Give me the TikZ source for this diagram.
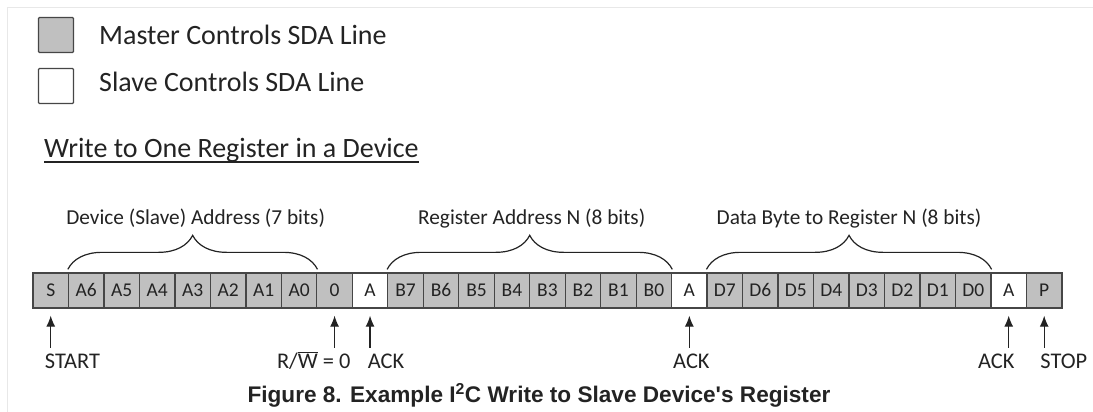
\documentclass[tikz,border=0pt]{standalone}
\usepackage{fontspec}
\setmainfont{Carlito}
\newfontfamily\capfont{Liberation Sans}
\usepackage{tikz}
\usetikzlibrary{calc,arrows.meta,decorations.pathreplacing,positioning}
\definecolor{mygray}{RGB}{192,192,192}
\definecolor{mywhite}{RGB}{255,255,255}
\definecolor{myedge}{RGB}{70,70,70}
\definecolor{myink}{RGB}{35,35,35}
\definecolor{myframe}{RGB}{232,232,232}

\begin{document}
\begin{tikzpicture}[
  x=1pt, y=-1pt,
  text=myink,
  bitbox/.style={
    draw=myedge,
    line width=1.3pt,
    minimum width=35.48pt,
    minimum height=35pt,
    inner sep=0pt,
    font=\fontsize{19.5}{19.5}\selectfont,
    text height=12.5pt,
    text depth=0pt
    },
  legbox/.style={
    draw=myedge,
    line width=1.3pt,
    rounded corners=1pt,
    minimum size=35pt,
    inner sep=0pt
    },
  bigtxt/.style={
    anchor=base west,
    inner sep=0pt,
    font=\fontsize{28}{28}\selectfont
    },
  bracelbl/.style={
    anchor=base,
    inner sep=0pt,
    font=\fontsize{21.3}{21.3}\selectfont
    },
  siglbl/.style={
    inner sep=0pt,
    text height=14.2pt,
    text depth=0pt,
    font=\fontsize{22.4}{22.4}\selectfont
    },
  sigarrow/.style={
    draw=myink,
    line width=1.2pt,
    -{Latex[length=11pt,width=9pt]}
    },
  mybrace/.style={
    draw=myink,
    line width=1.2pt,
    decorate,
    decoration={brace,amplitude=34pt}
  }
]
\useasboundingbox (0,0) rectangle (1093,412);
\draw[myframe, line width=1pt] (7,412) -- (7,8) -- (1093,8);

% legend
\node[legbox, fill=mygray]  (masterkey) at (56,35) {};
\node[legbox, fill=mywhite] (slavekey)  at (56,86) {};
\node[bigtxt] (mastertxt) at (99,45) {Master Controls SDA Line};
\node[bigtxt] (slavetxt) at (99,92) {Slave Controls SDA Line};

% heading
\node[bigtxt] (heading) at (44,157) {Write to One Register in a Device};
\draw[myink, line width=1.3pt] ($(heading.base west)+(0,5)$) -- ($(heading.base east)+(0,5)$);

% the bits on the line
\foreach \Bit/\Col [count=\Biti from 1] in {S/mygray, A6/mygray, A5/mygray, A4/mygray, A3/mygray, A2/mygray, A1/mygray, A0/mygray, 0/mygray, A/mywhite, B7/mygray, B6/mygray, B5/mygray, B4/mygray, B3/mygray, B2/mygray, B1/mygray, B0/mygray, A/mywhite, D7/mygray, D6/mygray, D5/mygray, D4/mygray, D3/mygray, D2/mygray, D1/mygray, D0/mygray, A/mywhite, P/mygray}
  \node[bitbox, fill=\Col] (b\Biti) at ({33+35.48*(\Biti-0.5)},290.5) {\Bit};

% braces
\draw[mybrace] ([yshift=3pt]b2.north west) -- ([yshift=3pt]b8.north east);
\draw[mybrace] ([yshift=3pt]b11.north west) -- ([yshift=3pt]b18.north east);
\draw[mybrace] ([yshift=3pt]b20.north west) -- ([yshift=3pt]b27.north east);
\node[bracelbl] (devaddr) at ($(b2.north west)!.5!(b8.north east)+(3,-48)$) {Device (Slave) Address (7 bits)};
\node[bracelbl] (regaddr) at ($(b11.north west)!.5!(b18.north east)+(2,-48)$) {Register Address N (8 bits)};
\node[bracelbl] (databyte) at ($(b20.north west)!.5!(b27.north east)+(0,-48)$) {Data Byte to Register N (8 bits)};

% markers below
\node[siglbl, anchor=north west] (start) at ($(b1.south)+(-6,45)$) {START};
\node[siglbl, anchor=north east] (rw) at ($(b9.south)+(16,45)$) {R/$\overline{\mbox{W}}$ = 0};
\node[siglbl, anchor=north west] (ack1) at ($(b10.south)+(-2.5,45)$) {ACK};
\node[siglbl, anchor=north] (ack2) at ($(b19.south)+(2,45)$) {ACK};
\node[siglbl, anchor=north east] (ack3) at ($(b28.south)+(6,45)$) {ACK};
\node[siglbl, anchor=north west] (stop) at ($(b29.south)+(-4,45)$) {STOP};

\draw[sigarrow] ($(b1.south |- start.north)+(0,-6)$) -- ([yshift=-7pt]b1.south);
\draw[sigarrow] ($(b9.south |- rw.north)+(0,-6)$) -- ([yshift=-7pt]b9.south);
\draw[sigarrow] ($(b10.south |- ack1.north)+(0,-6)$) -- ([yshift=-7pt]b10.south);
\draw[sigarrow] ($(b19.south |- ack2.north)+(0,-6)$) -- ([yshift=-7pt]b19.south);
\draw[sigarrow] ($(b28.south |- ack3.north)+(0,-6)$) -- ([yshift=-7pt]b28.south);
\draw[sigarrow] ($(b29.south |- stop.north)+(0,-6)$) -- ([yshift=-7pt]b29.south);

% caption
\node[anchor=base, inner sep=0pt, font=\capfont\bfseries\fontsize{22.6}{22.6}\selectfont]
  (caption) at (539,402) {Figure 8. Example I\textsuperscript{2}C Write to Slave Device's Register};
\end{tikzpicture}
\end{document}
